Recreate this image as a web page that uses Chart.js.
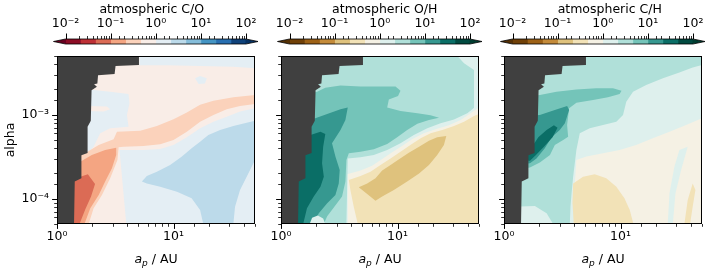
<!DOCTYPE html>
<html>
<head>
<meta charset="utf-8">
<title>atmospheric C/O, O/H, C/H</title>
<script src="https://cdn.jsdelivr.net/npm/chart.js@4.4.1/dist/chart.umd.min.js"></script>
<style>
  body { margin: 0; background: #fff; }
  #fig { position: relative; width: 709px; height: 270px; overflow: hidden; background: #fff; }
  #fig canvas { position: absolute; }
</style>
</head>
<body>
<div id="fig">
  <canvas id="cb-co" width="224" height="50" style="left:45px;top:0"></canvas>
  <canvas id="cb-oh" width="224" height="50" style="left:269px;top:0"></canvas>
  <canvas id="cb-ch" width="224" height="50" style="left:492px;top:0"></canvas>
  <canvas id="map-co" width="259" height="220" style="left:0;top:50px"></canvas>
  <canvas id="map-oh" width="222" height="220" style="left:261px;top:50px"></canvas>
  <canvas id="map-ch" width="222" height="220" style="left:484px;top:50px"></canvas>
</div>
<script>
// colour levels (log spaced, 3 per decade) and tick labels
const cbEdges = [0.01, 0.0215, 0.0464, 0.1, 0.215, 0.464, 1, 2.15, 4.64, 10, 21.5, 46.4, 100];
const cbTickValues = [0.01, 0.1, 1, 10, 100];
const cbTickLabels = ['10⁻²', '10⁻¹', '10⁰', '10¹', '10²'];
const xTickValues = [1, 10];
const xTickLabels = ['10⁰', '10¹'];
const yTickValues = [1e-4, 1e-3];
const yTickLabels = ['10⁻⁴', '10⁻³'];

// RdBu and BrBG band colours (12 bands + under/over)
const rdbu = ['#8c0c25', '#be3036', '#db6b55', '#f4a582', '#fbd2bb', '#f9ede7',
              '#e4eef4', '#bcdaea', '#85bdda', '#4494c3', '#276eb0', '#0f427a'];
const rdbuExt = ['#67001f', '#053061'];
const brbg = ['#704007', '#9d6116', '#c48b3a', '#dfc27d', '#f2e2b7', '#f5f1e4',
              '#def0ed', '#b0e0d9', '#74c4b9', '#369890', '#0a6e66', '#004a40'];
const brbgExt = ['#543005', '#003c30'];
const maskColor = '#404040';

// regions, [a_p (AU), alpha] vertices
const fullArea = [[1, 5e-5], [50, 5e-5], [50, 5e-3], [1, 5e-3]];
const noPlanet = [[1, 5e-3], [5.05, 5e-3], [5.05, 3.9e-3], [3.18, 3.8e-3], [3.12, 3.05e-3], [2.25, 2.95e-3],
  [2.22, 2.36e-3], [2.08, 2.3e-3], [2.2, 2.15e-3], [1.98, 1.95e-3], [1.95, 8.5e-4], [1.83, 7.2e-4],
  [1.83, 3.5e-4], [1.62, 3.3e-4], [1.62, 1.75e-4], [1.42, 1.6e-4], [1.4, 5e-5], [1, 5e-5]];

// C/O
const coPaleTop = [[5.1, 5e-3], [50, 5e-3], [50, 3.57e-3], [32.6, 3.73e-3], [16.9, 3.8e-3], [8.8, 3.87e-3], [5.1, 3.87e-3]];
const coPaleBlob = [[15.3, 2.71e-3], [16.9, 2.89e-3], [19.3, 2.71e-3], [18.6, 2.36e-3], [16.4, 2.32e-3]];
const coPaleLeft = [[1.5, 1.97e-3], [2.06, 1.97e-3], [2.86, 1.88e-3], [4.11, 1.76e-3], [4.19, 1.37e-3], [3.98, 9.9e-4],
  [4.11, 7.2e-4], [2.86, 6.9e-4], [2.35, 6.0e-4], [2.06, 4.16e-4], [1.83, 3.47e-4], [1.5, 3.47e-4]];
const coPinkTongue = [[1.8, 1.27e-3], [2.68, 1.25e-3], [2.86, 1.16e-3], [2.51, 1.09e-3], [1.8, 1.11e-3]];
const coPaleRight = [[3.44, 3.8e-4], [5.53, 3.8e-4], [7.68, 3.91e-4], [9.99, 4.36e-4], [13.0, 5.38e-4], [16.9, 6.89e-4],
  [22.0, 8.26e-4], [28.6, 9.48e-4], [37.2, 1.09e-3], [50, 1.19e-3], [50, 5e-5], [3.93, 5e-5]];
const coBlue = [[5.35, 1.6e-4], [5.9, 1.86e-4], [7.19, 2.1e-4], [9.35, 2.52e-4], [11.8, 3.17e-4], [14.3, 3.98e-4],
  [16.9, 4.78e-4], [19.9, 5.73e-4], [25.1, 6.58e-4], [32.6, 7.34e-4], [42.4, 8.04e-4], [50, 8.49e-4], [50, 2.89e-4],
  [43.8, 2.0e-4], [37.2, 1.27e-4], [33.7, 8.04e-5], [32.6, 5e-5], [18.0, 5e-5], [16.9, 7.34e-5], [14.3, 1.01e-4],
  [10.7, 1.21e-4], [7.68, 1.39e-4], [5.9, 1.52e-4]];
const coSalmon = [[3.27, 6.28e-4], [5.18, 6.46e-4], [7.19, 7.34e-4], [9.99, 8.81e-4], [13.0, 1.06e-3], [16.9, 1.31e-3],
  [22.0, 1.47e-3], [32.6, 1.61e-3], [50, 1.72e-3], [50, 1.34e-3], [37.2, 1.27e-3], [28.6, 1.16e-3], [22.0, 9.9e-4],
  [16.9, 8.26e-4], [13.0, 6.28e-4], [9.99, 5.0e-4], [7.68, 4.44e-4], [5.53, 4.24e-4], [3.73, 4.16e-4], [3.38, 4.09e-4],
  [3.3, 2.89e-4], [2.86, 1.75e-4], [2.43, 1.11e-4], [2.06, 7.68e-5], [1.87, 5e-5], [1.2, 5e-5], [1.2, 3.31e-4],
  [1.64, 3.31e-4], [2.28, 4.36e-4], [3.06, 5.1e-4]];
const coOrange = [[1.2, 2.2e-4], [1.585, 2.76e-4], [1.99, 3.31e-4], [2.59, 3.8e-4], [3.22, 4.05e-4], [3.22, 3.31e-4],
  [2.96, 2.3e-4], [2.59, 1.6e-4], [2.28, 1.11e-4], [1.93, 7.68e-5], [1.72, 5e-5], [1.2, 5e-5]];
const coRed = [[1.2, 1.6e-4], [1.84, 1.95e-4], [2.12, 1.5e-4], [1.96, 1.06e-4], [1.75, 7.47e-5], [1.56, 5e-5], [1.2, 5e-5]];

// O/H
const ohPaleCorner = [[32.6, 5e-3], [50, 5e-3], [50, 9.5e-4], [45.3, 1.04e-3], [45.3, 3.41e-3], [37.2, 4.09e-3]];
const ohPale = [[3.74, 3.02e-4], [4.81, 3.11e-4], [6.26, 3.31e-4], [8.15, 3.8e-4], [10.6, 4.56e-4], [13.8, 5.73e-4],
  [18.0, 6.89e-4], [23.4, 7.9e-4], [30.5, 8.8e-4], [39.7, 1.04e-3], [46.8, 1.25e-3], [50, 1.31e-3], [50, 5e-5], [3.64, 5e-5]];
const ohCream = [[3.74, 1.97e-4], [4.81, 2.16e-4], [6.05, 2.47e-4], [7.38, 2.97e-4], [8.99, 3.57e-4], [11.0, 4.28e-4],
  [13.4, 5.14e-4], [16.8, 6.0e-4], [21.2, 6.7e-4], [27.6, 7.47e-4], [34.8, 8.65e-4], [42.4, 1.04e-3], [47.7, 1.17e-3],
  [50, 1.22e-3], [50, 5e-5], [3.74, 5e-5]];
const ohSand = [[3.82, 1.67e-4], [4.81, 1.86e-4], [5.86, 2.1e-4], [7.14, 2.52e-4], [8.71, 3.02e-4], [10.6, 3.63e-4],
  [12.9, 4.36e-4], [15.8, 5.23e-4], [19.2, 6.0e-4], [24.2, 6.58e-4], [30.5, 7.34e-4], [37.2, 8.26e-4], [45.3, 9.65e-4],
  [50, 1.02e-3], [50, 5e-5], [4.56, 5e-5], [4.21, 8.04e-5], [3.94, 1.27e-4]];
const ohTan = [[4.65, 1.37e-4], [5.49, 1.52e-4], [6.47, 1.75e-4], [7.38, 2.16e-4], [8.71, 2.52e-4], [10.3, 2.94e-4],
  [12.5, 3.53e-4], [15.3, 4.16e-4], [18.6, 4.91e-4], [21.9, 5.38e-4], [26.2, 5.58e-4], [25.0, 4.36e-4], [21.9, 3.31e-4],
  [18.6, 2.52e-4], [15.3, 2.0e-4], [12.1, 1.6e-4], [9.3, 1.27e-4], [7.38, 1.06e-4], [6.47, 9.48e-5], [5.49, 1.14e-4]];
const ohTeal = [[1.28, 1.64e-3], [2.04, 1.88e-3], [2.4, 2.1e-3], [3.24, 2.22e-3], [4.81, 2.16e-3], [7.14, 2.16e-3],
  [9.61, 2.16e-3], [10.6, 1.93e-3], [10.1, 1.67e-3], [8.42, 1.52e-3], [8.15, 1.22e-3], [10.6, 1.11e-3], [14.8, 1.04e-3],
  [19.2, 9.83e-4], [22.7, 9.22e-4], [18.6, 8.65e-4], [14.8, 7.82e-4], [12.1, 6.58e-4], [9.93, 5.38e-4], [8.15, 4.48e-4],
  [6.26, 3.87e-4], [4.81, 3.63e-4], [3.82, 3.47e-4], [3.64, 2.89e-4], [3.57, 1.6e-4], [3.34, 1.06e-4], [2.87, 8.04e-5],
  [2.49, 6.2e-5], [2.33, 5e-5], [1.28, 5e-5]];
const ohTealDark = [[1.28, 8.26e-4], [1.97, 9.06e-4], [2.49, 1.02e-3], [3.24, 1.16e-3], [3.74, 1.22e-3], [3.57, 8.65e-4],
  [3.24, 6.58e-4], [2.74, 4.56e-4], [2.93, 3.17e-4], [3.19, 2.2e-4], [3.13, 1.52e-4], [2.93, 1.11e-4], [2.49, 8.81e-5],
  [2.11, 6.7e-5], [1.91, 5e-5], [1.28, 5e-5]];
const ohTealDeep = [[1.28, 5.48e-4], [1.79, 5.73e-4], [2.18, 6.28e-4], [2.4, 5.89e-4], [2.3, 4.16e-4], [2.25, 2.64e-4],
  [2.33, 1.83e-4], [2.18, 1.39e-4], [1.91, 1.06e-4], [1.67, 7.68e-5], [1.55, 5e-5], [1.28, 5e-5]];
const ohPaleSpot = [[1.76, 5e-5], [1.85, 5.95e-5], [2.07, 6.3e-5], [2.3, 5.8e-5], [2.4, 5e-5]];

// C/H
const chTeal = [[1.2, 5e-3], [50, 5e-3], [50, 3.91e-3], [41.6, 3.66e-3], [32.0, 3.17e-3], [23.1, 2.71e-3], [16.6, 2.26e-3],
  [12.8, 1.88e-3], [11.2, 1.43e-3], [10.5, 9.9e-4], [9.2, 8.26e-4], [7.07, 7.54e-4], [5.44, 6.89e-4], [4.47, 6.0e-4],
  [4.18, 3.8e-4], [4.05, 2.64e-4], [3.92, 1.83e-4], [3.79, 1.11e-4], [3.72, 8.04e-5], [3.67, 5e-5], [1.2, 5e-5]];
const chPaleSpot = [[1.2, 8.04e-5], [1.84, 8.2e-5], [2.32, 6.7e-5], [2.64, 5e-5], [1.2, 5e-5]];
const chCream = [[4.18, 2.89e-4], [5.09, 3.17e-4], [7.07, 3.47e-4], [9.82, 3.8e-4], [13.6, 4.36e-4], [18.9, 5.23e-4],
  [26.3, 6.28e-4], [36.5, 7.54e-4], [50, 9.06e-4], [50, 5e-5], [3.97, 5e-5], [4.05, 1.52e-4]];
const chPaleStripe = [[32.0, 3.8e-4], [37.7, 4.16e-4], [33.1, 2.2e-4], [29.6, 1.16e-4], [28.1, 5e-5], [25.4, 5e-5],
  [26.3, 1.16e-4], [29.0, 2.41e-4]];
const chSand = [[3.92, 1.52e-4], [4.77, 1.83e-4], [6.0, 1.95e-4], [7.55, 1.75e-4], [9.2, 1.39e-4], [10.8, 1.01e-4],
  [12.0, 7.34e-5], [12.9, 5e-5], [3.97, 5e-5], [3.87, 8.81e-5]];
const chSandSliver = [[35.3, 5e-5], [37.7, 9.65e-5], [41.6, 1.52e-4], [43.9, 1.27e-4], [41.6, 8.04e-5], [39.5, 5e-5]];
const chTealMid = [[1.2, 1.64e-3], [2.03, 1.72e-3], [2.82, 1.88e-3], [4.18, 2.0e-3], [6.2, 2.06e-3], [8.61, 2.06e-3],
  [10.2, 1.93e-3], [9.82, 1.76e-3], [7.8, 1.61e-3], [5.81, 1.5e-3], [4.18, 1.39e-3], [3.62, 1.19e-3], [3.48, 7.54e-4],
  [3.55, 5.48e-4], [3.22, 5.0e-4], [2.73, 4.36e-4], [2.48, 3.31e-4], [2.03, 2.69e-4], [1.67, 2.36e-4], [1.2, 2.2e-4]];
const chTealDark = [[1.2, 9.48e-4], [2.03, 9.92e-4], [2.73, 1.14e-3], [3.48, 1.27e-3], [3.62, 1.14e-3], [3.33, 7.9e-4],
  [3.01, 6.58e-4], [2.56, 5.38e-4], [2.24, 3.98e-4], [1.9, 3.02e-4], [1.67, 2.64e-4], [1.2, 2.52e-4]];
const chTealDeep = [[1.37, 2.89e-4], [1.67, 3.8e-4], [1.97, 5.38e-4], [2.32, 6.58e-4], [2.68, 7.47e-4], [2.88, 7.0e-4],
  [2.61, 5.38e-4], [2.2, 4.16e-4], [1.88, 3.31e-4], [1.67, 2.84e-4]];

Chart.defaults.font.family = '"DejaVu Sans", sans-serif';
Chart.defaults.font.size = 12.5;
Chart.defaults.color = '#000';

const isDecade = (v) => Math.abs(Math.log10(v) - Math.round(Math.log10(v))) < 1e-6;
const labelFor = (values, labels) => (v) => {
  const i = values.findIndex((t) => Math.abs(Math.log10(v) - Math.log10(t)) < 1e-6);
  return i >= 0 ? labels[i] : '';
};

// fills every dataset as a closed polygon through the chart scales
const polyFill = {
  id: 'polyFill',
  beforeDatasetsDraw(chart) {
    const { ctx, chartArea: a } = chart;
    ctx.save();
    ctx.beginPath();
    ctx.rect(a.left, a.top, a.width, a.height);
    ctx.clip();
    chart.data.datasets.forEach((ds, i) => {
      const pts = chart.getDatasetMeta(i).data;
      ctx.beginPath();
      pts.forEach((p, j) => (j ? ctx.lineTo(p.x, p.y) : ctx.moveTo(p.x, p.y)));
      ctx.closePath();
      ctx.fillStyle = ds.backgroundColor;
      ctx.fill();
    });
    ctx.restore();
  }
};

const frameTicks = {
  id: 'frameTicks',
  afterDraw(chart) {
    const { ctx, chartArea: a, scales: { x, y } } = chart;
    ctx.save();
    ctx.strokeStyle = '#000';
    x.ticks.forEach((t) => {
      const p = Math.round(x.getPixelForValue(t.value)) + 0.5;
      const major = isDecade(t.value);
      ctx.lineWidth = major ? 1 : 0.8;
      ctx.beginPath();
      ctx.moveTo(p, a.bottom);
      ctx.lineTo(p, a.bottom + (major ? 4.9 : 2.8));
      ctx.stroke();
    });
    y.ticks.forEach((t) => {
      const p = Math.round(y.getPixelForValue(t.value)) + 0.5;
      const major = isDecade(t.value);
      ctx.lineWidth = major ? 1 : 0.8;
      ctx.beginPath();
      ctx.moveTo(a.left, p);
      ctx.lineTo(a.left - (major ? 4.9 : 2.8), p);
      ctx.stroke();
    });
    ctx.lineWidth = 1;
    ctx.strokeRect(a.left + 0.5, a.top + 0.5, a.width - 1, a.height - 1);
    ctx.restore();
  }
};

// x axis title with italic a and subscript p
const xTitle = {
  id: 'xTitle',
  afterDraw(chart) {
    const { ctx, chartArea: a } = chart;
    const runs = [
      { text: 'a', font: 'italic 12.5px "DejaVu Sans"', dy: 0 },
      { text: 'p', font: 'italic 9px "DejaVu Sans"', dy: 2.5 },
      { text: ' / AU', font: '12.5px "DejaVu Sans"', dy: 0 }
    ];
    ctx.save();
    let w = 0;
    runs.forEach((r) => { ctx.font = r.font; r.w = ctx.measureText(r.text).width; w += r.w; });
    let x = (a.left + a.right) / 2 - w / 2;
    ctx.fillStyle = '#000';
    ctx.textBaseline = 'alphabetic';
    runs.forEach((r) => { ctx.font = r.font; ctx.fillText(r.text, x, a.bottom + 39 + r.dy); x += r.w; });
    ctx.restore();
  }
};

const cbDecor = {
  id: 'cbDecor',
  afterDatasetsDraw(chart, args, opts) {
    const { ctx, chartArea: a, scales: { x } } = chart;
    const x0 = a.left, x1 = a.right, mid = (a.top + a.bottom) / 2, ext = 12;
    ctx.save();
    ctx.fillStyle = opts.under;
    ctx.beginPath(); ctx.moveTo(x0 + 0.5, a.top); ctx.lineTo(x0 - ext, mid); ctx.lineTo(x0 + 0.5, a.bottom); ctx.fill();
    ctx.fillStyle = opts.over;
    ctx.beginPath(); ctx.moveTo(x1 - 0.5, a.top); ctx.lineTo(x1 + ext, mid); ctx.lineTo(x1 - 0.5, a.bottom); ctx.fill();
    ctx.strokeStyle = '#000';
    ctx.lineWidth = 0.8;
    ctx.beginPath();
    ctx.moveTo(x0 - ext, mid); ctx.lineTo(x0, a.top); ctx.lineTo(x1, a.top); ctx.lineTo(x1 + ext, mid);
    ctx.lineTo(x1, a.bottom); ctx.lineTo(x0, a.bottom); ctx.closePath();
    ctx.stroke();
    x.ticks.forEach((t) => {
      const p = Math.round(x.getPixelForValue(t.value)) + 0.5;
      const major = isDecade(t.value);
      ctx.lineWidth = major ? 1 : 0.8;
      ctx.beginPath();
      ctx.moveTo(p, a.top);
      ctx.lineTo(p, a.top - (major ? 5.5 : 3));
      ctx.stroke();
    });
    ctx.fillStyle = '#000';
    ctx.font = '12.5px "DejaVu Sans"';
    ctx.textAlign = 'center';
    ctx.textBaseline = 'alphabetic';
    ctx.fillText(opts.title, (x0 + x1) / 2 + opts.shift, 13);
    ctx.restore();
  }
};

function colorbar(id, title, colors, ext, shift) {
  new Chart(document.getElementById(id), {
    type: 'bar',
    data: {
      labels: [''],
      datasets: colors.map((c, i) => ({
        data: [[cbEdges[i], cbEdges[i + 1]]],
        backgroundColor: c,
        borderWidth: 0,
        grouped: false,
        barPercentage: 1,
        categoryPercentage: 1
      }))
    },
    options: {
      indexAxis: 'y',
      responsive: false,
      animation: false,
      events: [],
      layout: { padding: { left: 20.5, right: 23, top: 17.4, bottom: 6 } },
      plugins: {
        legend: { display: false },
        tooltip: { enabled: false },
        cbDecor: { title, under: ext[0], over: ext[1], shift }
      },
      scales: {
        x: {
          type: 'logarithmic', position: 'top', min: 0.01, max: 100,
          grid: { display: false, drawTicks: false }, border: { display: false },
          ticks: { autoSkip: false, maxRotation: 0, padding: 7.5, callback: labelFor(cbTickValues, cbTickLabels) },
          afterFit: (s) => { s.height = 21.6; s.paddingLeft = 0; s.paddingRight = 0; }
        },
        y: { display: false }
      }
    },
    plugins: [cbDecor]
  });
}

function panel(id, layers, colors, withYLabels) {
  new Chart(document.getElementById(id), {
    type: 'scatter',
    data: {
      datasets: layers.map(([pts, level]) => ({
        data: pts.map(([x, y]) => ({ x, y })),
        backgroundColor: level < 0 ? maskColor : colors[level],
        pointRadius: 0,
        showLine: false
      }))
    },
    options: {
      responsive: false,
      animation: false,
      events: [],
      layout: { padding: { left: 0, right: 4, top: 6, bottom: 0 } },
      plugins: { legend: { display: false }, tooltip: { enabled: false } },
      scales: {
        x: {
          type: 'logarithmic', min: 1, max: 50,
          grid: { display: false, drawTicks: false }, border: { display: false },
          ticks: { autoSkip: false, maxRotation: 0, padding: 4.8, callback: labelFor(xTickValues, xTickLabels) },
          afterFit: (s) => { s.height = 46; s.paddingLeft = 0; s.paddingRight = 0; }
        },
        y: {
          type: 'logarithmic', min: 5e-5, max: 5e-3,
          grid: { display: false, drawTicks: false }, border: { display: false },
          ticks: { autoSkip: false, padding: 8, callback: withYLabels ? labelFor(yTickValues, yTickLabels) : () => '' },
          title: { display: withYLabels, text: 'alpha', font: { size: 12.5 }, padding: { top: 3, bottom: 0 } },
          afterFit: (s) => { s.width = withYLabels ? 57 : 20; s.paddingTop = 0; s.paddingBottom = 0; }
        }
      }
    },
    plugins: [polyFill, frameTicks, xTitle]
  });
}

colorbar('cb-co', 'atmospheric C/O', rdbu, rdbuExt, -4);
colorbar('cb-oh', 'atmospheric O/H', brbg, brbgExt, 5);
colorbar('cb-ch', 'atmospheric C/H', brbg, brbgExt, 7);

panel('map-co', [
  [fullArea, 5], [coPaleTop, 6], [coPaleBlob, 6], [coPaleLeft, 6], [coPinkTongue, 5], [coPaleRight, 6],
  [coBlue, 7], [coSalmon, 4], [coOrange, 3], [coRed, 2], [noPlanet, -1]
], rdbu, true);

panel('map-oh', [
  [fullArea, 7], [ohPaleCorner, 6], [ohPale, 6], [ohCream, 5], [ohSand, 4], [ohTan, 3],
  [ohTeal, 8], [ohTealDark, 9], [ohTealDeep, 10], [ohPaleSpot, 6], [noPlanet, -1]
], brbg, false);

panel('map-ch', [
  [fullArea, 6], [chTeal, 7], [chPaleSpot, 6], [chCream, 5], [chPaleStripe, 6], [chSand, 4], [chSandSliver, 4],
  [chTealMid, 8], [chTealDark, 9], [chTealDeep, 10], [noPlanet, -1]
], brbg, false);
</script>
</body>
</html>
